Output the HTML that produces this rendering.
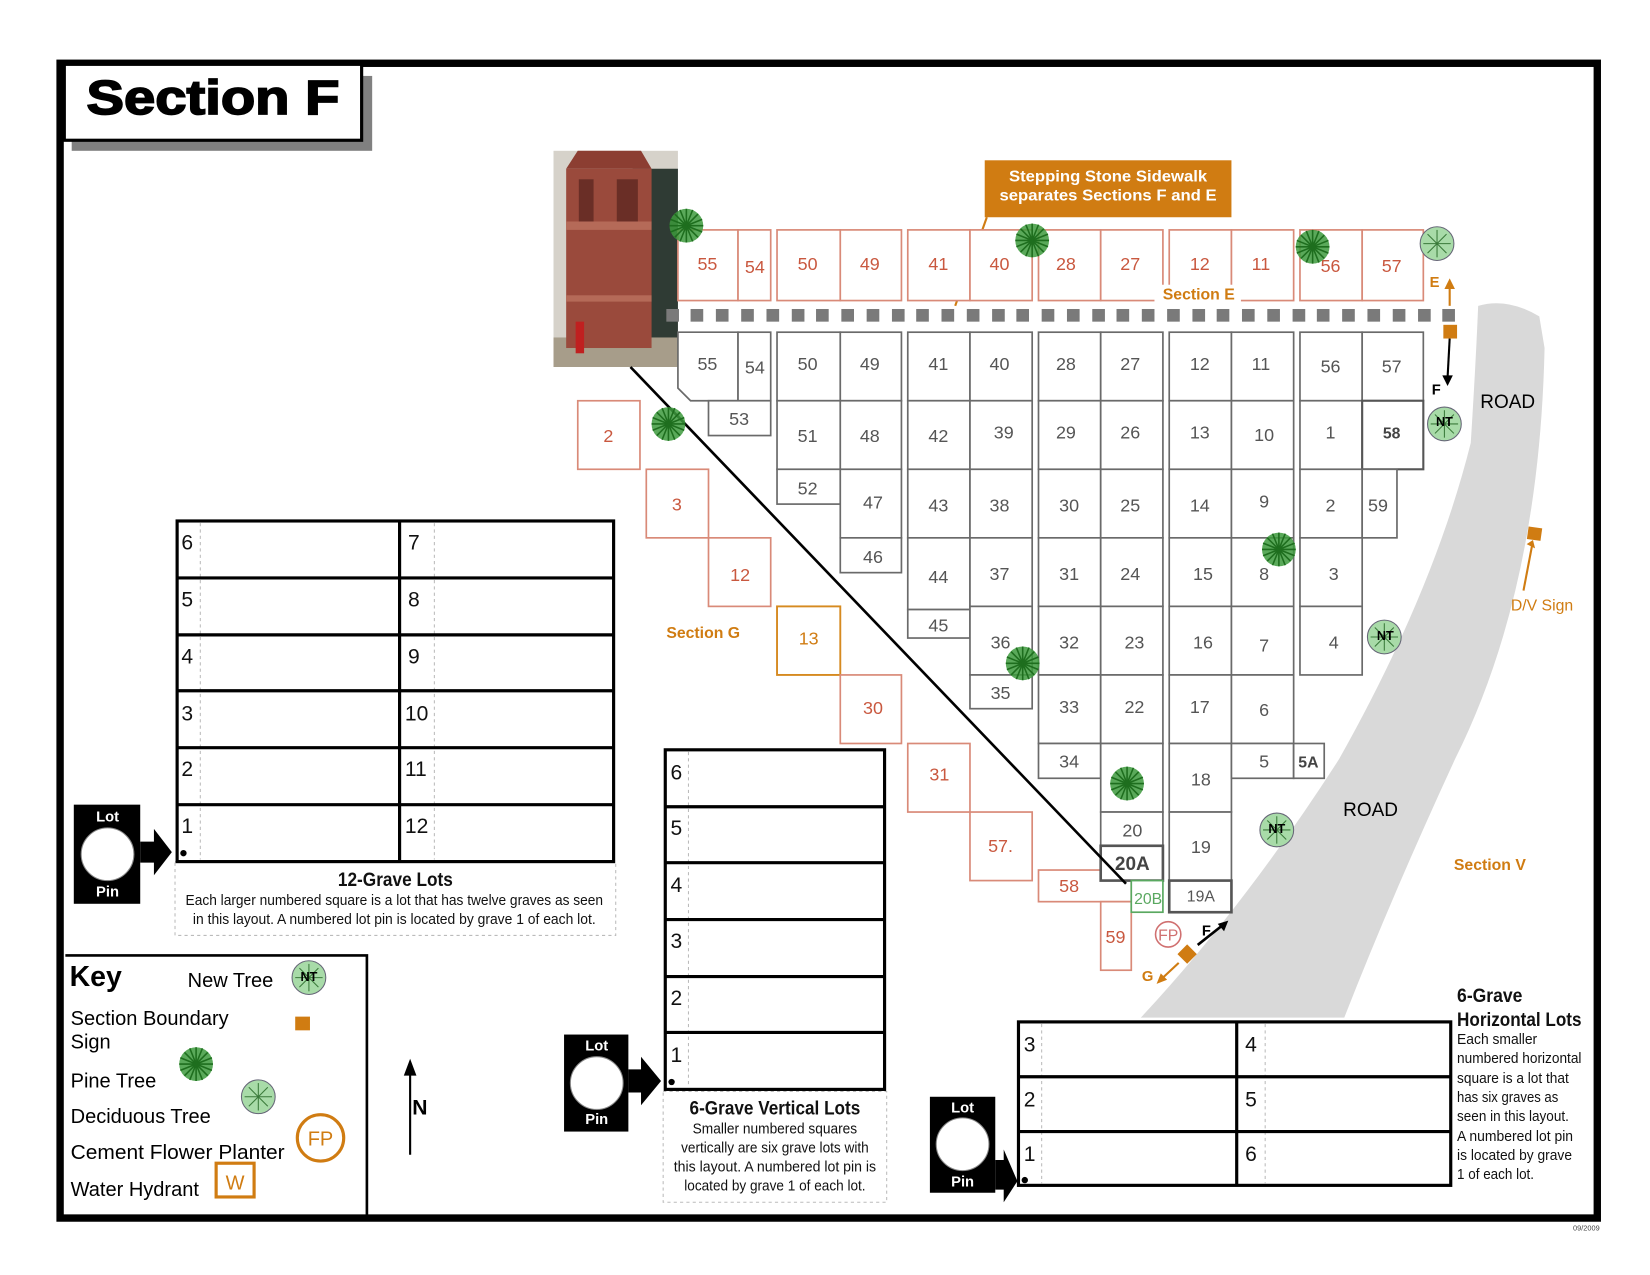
<!DOCTYPE html>
<html><head><meta charset="utf-8"><style>
html,body{margin:0;padding:0;background:#fff;}
svg{display:block;}
text{font-family:"Liberation Sans",sans-serif;}
.n{font-size:17px;fill:#555;text-anchor:middle;}
.r{font-size:17px;fill:#c9583f;text-anchor:middle;}
.f{fill:#fff;stroke:#6a6a6a;stroke-width:1.6;}
.e{fill:#fff;stroke:#d98a78;stroke-width:1.6;}
.t{fill:none;stroke:#000;stroke-width:3;}
.num{font-size:20px;fill:#111;}
.cap{font-size:14px;fill:#111;}
.capb{font-size:18px;font-weight:bold;fill:#111;}
.org{fill:#d07c12;font-weight:bold;}
.key{font-size:19px;fill:#000;}
</style></head><body>
<svg width="1650" height="1275" viewBox="0 0 1565 1209" preserveAspectRatio="none" xmlns="http://www.w3.org/2000/svg">
<defs>
<g id="pine"><circle r="16" fill="#3d9a3d" opacity="0.85"/><g stroke="#1e6e1e" stroke-width="1.5"><line x1="-16" y1="0" x2="16" y2="0"/><line x1="0" y1="-16" x2="0" y2="16"/><line x1="-11" y1="-11" x2="11" y2="11"/><line x1="-11" y1="11" x2="11" y2="-11"/><line x1="-15" y1="-6" x2="15" y2="6"/><line x1="-15" y1="6" x2="15" y2="-6"/><line x1="-6" y1="-15" x2="6" y2="15"/><line x1="6" y1="-15" x2="-6" y2="15"/></g></g>
<g id="dec"><circle r="16" fill="#a8dba8" stroke="#667" stroke-width="1"/><g stroke="#3a7a3a" stroke-width="1"><line x1="-13" y1="0" x2="13" y2="0"/><line x1="0" y1="-13" x2="0" y2="13"/><line x1="-9" y1="-9" x2="9" y2="9"/><line x1="-9" y1="9" x2="9" y2="-9"/></g></g>
</defs>

<!-- road -->
<path d="M1402,290 Q1430,282 1460,300 L1465,330 Q1460,560 1380,720 Q1320,850 1275,965 L1082,965 Q1180,860 1270,720 Q1360,560 1395,420 Q1400,340 1402,290 Z" fill="#d9d9d9"/>

<!-- outer border -->
<rect x="57" y="60" width="1458" height="1095" fill="none" stroke="#000" stroke-width="7"/>
<!-- title -->
<rect x="68" y="72" width="285" height="71" fill="#808080"/>
<rect x="61" y="61" width="282" height="72" fill="#fff" stroke="#000" stroke-width="3"/>
<text x="82" y="108" font-size="46" font-weight="bold" fill="#000" stroke="#000" stroke-width="1.6" textLength="240" lengthAdjust="spacingAndGlyphs">Section F</text>

<!-- tower photo -->
<rect x="525" y="143" width="118" height="205" fill="#d6d2ca"/>
<rect x="600" y="160" width="43" height="170" fill="#2f3b34"/>
<rect x="525" y="320" width="118" height="28" fill="#a79d8a"/>
<polygon points="537,160 548,143 608,143 618,160" fill="#8c3e32"/>
<rect x="537" y="160" width="81" height="170" fill="#9a4a3c"/>
<rect x="537" y="210" width="81" height="8" fill="#b56a58"/>
<rect x="537" y="280" width="81" height="6" fill="#b56a58"/>
<rect x="549" y="170" width="14" height="40" fill="#6a2e26"/>
<rect x="585" y="170" width="20" height="40" fill="#6a2e26"/>
<rect x="546" y="305" width="8" height="30" fill="#c02020"/>

<!-- callout -->
<rect x="934" y="152" width="234" height="54" fill="#d07c12"/>
<text x="1051" y="172" font-size="14.5" font-weight="bold" fill="#fff" text-anchor="middle" textLength="188" lengthAdjust="spacingAndGlyphs">Stepping Stone Sidewalk</text>
<text x="1051" y="190" font-size="14.5" font-weight="bold" fill="#fff" text-anchor="middle" textLength="206" lengthAdjust="spacingAndGlyphs">separates Sections F and E</text>
<line x1="936" y1="206" x2="906" y2="290" stroke="#d07c12" stroke-width="2"/>

<!-- Section E row -->
<g>
<rect class="e" x="643" y="218" width="57" height="67"/><rect class="e" x="700" y="218" width="31" height="67"/>
<rect class="e" x="737" y="218" width="60" height="67"/><rect class="e" x="797" y="218" width="58" height="67"/>
<rect class="e" x="861" y="218" width="59" height="67"/><rect class="e" x="920" y="218" width="59" height="67"/>
<rect class="e" x="985" y="218" width="59" height="67"/><rect class="e" x="1044" y="218" width="59" height="67"/>
<rect class="e" x="1109" y="218" width="59" height="67"/><rect class="e" x="1168" y="218" width="59" height="67"/>
<rect class="e" x="1233" y="218" width="59" height="67"/><rect class="e" x="1292" y="218" width="58" height="67"/>
</g>
<g class="r">
<text x="671" y="256">55</text><text x="716" y="259">54</text><text x="766" y="256">50</text><text x="825" y="256">49</text>
<text x="890" y="256">41</text><text x="948" y="256">40</text><text x="1011" y="256">28</text><text x="1072" y="256">27</text>
<text x="1138" y="256">12</text><text x="1196" y="256">11</text><text x="1262" y="258">56</text><text x="1320" y="258">57</text>
</g>
<rect x="1095" y="270" width="82" height="16" fill="#fff"/>
<text x="1137" y="284" font-size="15" class="org" text-anchor="middle">Section E</text>

<!-- stepping stones -->
<g fill="#7a7a7a">
<rect x="632" y="293" width="12" height="12"/><rect x="655" y="293" width="12" height="12"/><rect x="679" y="293" width="12" height="12"/><rect x="703" y="293" width="12" height="12"/><rect x="727" y="293" width="12" height="12"/><rect x="751" y="293" width="12" height="12"/><rect x="774" y="293" width="12" height="12"/><rect x="798" y="293" width="12" height="12"/><rect x="822" y="293" width="12" height="12"/><rect x="846" y="293" width="12" height="12"/><rect x="869" y="293" width="12" height="12"/><rect x="893" y="293" width="12" height="12"/><rect x="917" y="293" width="12" height="12"/><rect x="941" y="293" width="12" height="12"/><rect x="964" y="293" width="12" height="12"/><rect x="988" y="293" width="12" height="12"/><rect x="1012" y="293" width="12" height="12"/><rect x="1036" y="293" width="12" height="12"/><rect x="1059" y="293" width="12" height="12"/><rect x="1083" y="293" width="12" height="12"/><rect x="1107" y="293" width="12" height="12"/><rect x="1131" y="293" width="12" height="12"/><rect x="1154" y="293" width="12" height="12"/><rect x="1178" y="293" width="12" height="12"/><rect x="1202" y="293" width="12" height="12"/><rect x="1226" y="293" width="12" height="12"/><rect x="1249" y="293" width="12" height="12"/><rect x="1273" y="293" width="12" height="12"/><rect x="1297" y="293" width="12" height="12"/><rect x="1321" y="293" width="12" height="12"/><rect x="1345" y="293" width="12" height="12"/><rect x="1368" y="293" width="12" height="12"/>
</g>

<!-- red diagonal lots -->
<rect class="e" x="548" y="380" width="59" height="65"/><text class="r" x="577" y="419">2</text>
<rect class="e" x="613" y="445" width="59" height="65"/><text class="r" x="642" y="484">3</text>
<rect class="e" x="672" y="510" width="59" height="65"/><text class="r" x="702" y="551">12</text>
<rect x="737" y="575" width="60" height="65" fill="#fff" stroke="#d68a20" stroke-width="1.8"/><text x="767" y="611" font-size="17" fill="#d07c12" text-anchor="middle">13</text>
<rect class="e" x="797" y="640" width="58" height="65"/><text class="r" x="828" y="677">30</text>
<rect class="e" x="861" y="705" width="59" height="65"/><text class="r" x="891" y="740">31</text>
<rect class="e" x="920" y="770" width="59" height="65"/><text class="r" x="949" y="808">57.</text>
<rect class="e" x="985" y="825" width="88" height="30"/><text class="r" x="1014" y="846">58</text>
<rect class="e" x="1044" y="855" width="29" height="65"/><text class="r" x="1058" y="894">59</text>
<text x="632" y="605" font-size="15" class="org">Section G</text>

<!-- Section F lots -->
<g>
<path class="f" d="M643,315 L700,315 L700,380 L655,380 L643,368 Z"/>
<rect class="f" x="700" y="315" width="31" height="65"/>
<rect class="f" x="672" y="380" width="59" height="33"/>
<rect class="f" x="737" y="315" width="60" height="65"/><rect class="f" x="797" y="315" width="58" height="65"/>
<rect class="f" x="737" y="380" width="60" height="65"/><rect class="f" x="797" y="380" width="58" height="65"/>
<rect class="f" x="737" y="445" width="60" height="33"/><rect class="f" x="797" y="445" width="58" height="65"/>
<rect class="f" x="797" y="510" width="58" height="33"/>
<rect class="f" x="861" y="315" width="59" height="65"/><rect class="f" x="920" y="315" width="59" height="65"/>
<rect class="f" x="861" y="380" width="59" height="65"/><rect class="f" x="920" y="380" width="59" height="65"/>
<rect class="f" x="861" y="445" width="59" height="65"/><rect class="f" x="920" y="445" width="59" height="65"/>
<rect class="f" x="861" y="510" width="59" height="68"/><rect class="f" x="920" y="510" width="59" height="65"/>
<rect class="f" x="861" y="578" width="59" height="27"/><rect class="f" x="920" y="575" width="59" height="65"/>
<rect class="f" x="920" y="640" width="59" height="32"/>
<rect class="f" x="985" y="315" width="59" height="65"/><rect class="f" x="1044" y="315" width="59" height="65"/>
<rect class="f" x="985" y="380" width="59" height="65"/><rect class="f" x="1044" y="380" width="59" height="65"/>
<rect class="f" x="985" y="445" width="59" height="65"/><rect class="f" x="1044" y="445" width="59" height="65"/>
<rect class="f" x="985" y="510" width="59" height="65"/><rect class="f" x="1044" y="510" width="59" height="65"/>
<rect class="f" x="985" y="575" width="59" height="65"/><rect class="f" x="1044" y="575" width="59" height="65"/>
<rect class="f" x="985" y="640" width="59" height="65"/><rect class="f" x="1044" y="640" width="59" height="65"/>
<rect class="f" x="985" y="705" width="59" height="33"/><rect class="f" x="1044" y="705" width="59" height="65"/>
<rect class="f" x="1044" y="770" width="59" height="32"/>
<rect x="1044" y="802" width="59" height="33" fill="#fff" stroke="#555" stroke-width="2.5"/>
<rect x="1073" y="835" width="30" height="30" fill="#fff" stroke="#5aa860" stroke-width="1.6"/>
<rect class="f" x="1109" y="315" width="59" height="65"/><rect class="f" x="1168" y="315" width="59" height="65"/>
<rect class="f" x="1109" y="380" width="59" height="65"/><rect class="f" x="1168" y="380" width="59" height="65"/>
<rect class="f" x="1109" y="445" width="59" height="65"/><rect class="f" x="1168" y="445" width="59" height="65"/>
<rect class="f" x="1109" y="510" width="59" height="65"/><rect class="f" x="1168" y="510" width="59" height="65"/>
<rect class="f" x="1109" y="575" width="59" height="65"/><rect class="f" x="1168" y="575" width="59" height="65"/>
<rect class="f" x="1109" y="640" width="59" height="65"/><rect class="f" x="1168" y="640" width="59" height="65"/>
<rect class="f" x="1109" y="705" width="59" height="65"/><rect class="f" x="1168" y="705" width="59" height="33"/>
<rect class="f" x="1227" y="705" width="29" height="33"/>
<rect class="f" x="1109" y="770" width="59" height="65"/>
<rect x="1109" y="835" width="59" height="30" fill="#fff" stroke="#555" stroke-width="2.5"/>
<rect class="f" x="1233" y="315" width="59" height="65"/><rect class="f" x="1292" y="315" width="58" height="65"/>
<rect class="f" x="1233" y="380" width="59" height="65"/><rect x="1292" y="380" width="58" height="65" fill="#fff" stroke="#555" stroke-width="2"/>
<rect class="f" x="1233" y="445" width="59" height="65"/><rect class="f" x="1292" y="445" width="33" height="65"/>
<rect class="f" x="1233" y="510" width="59" height="65"/><rect class="f" x="1233" y="575" width="59" height="65"/>
</g>
<g class="n">
<text x="671" y="351">55</text><text x="716" y="354">54</text><text x="701" y="403">53</text>
<text x="766" y="351">50</text><text x="825" y="351">49</text><text x="766" y="419">51</text><text x="825" y="419">48</text>
<text x="766" y="469">52</text><text x="828" y="482">47</text><text x="828" y="534">46</text>
<text x="890" y="351">41</text><text x="948" y="351">40</text><text x="890" y="419">42</text><text x="952" y="416">39</text>
<text x="890" y="485">43</text><text x="948" y="485">38</text><text x="890" y="553">44</text><text x="948" y="550">37</text>
<text x="890" y="599">45</text><text x="949" y="615">36</text><text x="949" y="663">35</text>
<text x="1011" y="351">28</text><text x="1072" y="351">27</text><text x="1011" y="416">29</text><text x="1072" y="416">26</text>
<text x="1014" y="485">30</text><text x="1072" y="485">25</text><text x="1014" y="550">31</text><text x="1072" y="550">24</text>
<text x="1014" y="615">32</text><text x="1076" y="615">23</text><text x="1014" y="676">33</text><text x="1076" y="676">22</text>
<text x="1014" y="728">34</text><text x="1074" y="793">20</text>
<text x="1138" y="351">12</text><text x="1196" y="351">11</text><text x="1138" y="416">13</text><text x="1199" y="418">10</text>
<text x="1138" y="485">14</text><text x="1199" y="481">9</text><text x="1141" y="550">15</text><text x="1199" y="550">8</text>
<text x="1141" y="615">16</text><text x="1199" y="618">7</text><text x="1138" y="676">17</text><text x="1199" y="679">6</text>
<text x="1139" y="745">18</text><text x="1199" y="728">5</text><text x="1139" y="809">19</text>
<text x="1262" y="353">56</text><text x="1320" y="353">57</text><text x="1262" y="416">1</text><text x="1262" y="485">2</text>
<text x="1307" y="485">59</text><text x="1265" y="550">3</text><text x="1265" y="615">4</text>
</g>
<text x="1241" y="728" font-size="15" font-weight="bold" fill="#444" text-anchor="middle">5A</text>
<text x="1320" y="416" font-size="15" font-weight="bold" fill="#444" text-anchor="middle">58</text>
<text x="1074" y="825" font-size="18" font-weight="bold" fill="#444" text-anchor="middle">20A</text>
<text x="1089" y="857" font-size="15" fill="#5aa860" text-anchor="middle">20B</text>
<text x="1139" y="855" font-size="15" fill="#555" text-anchor="middle">19A</text>

<!-- diagonal line -->
<line x1="598" y1="348" x2="1068" y2="838" stroke="#000" stroke-width="2.5"/>

<!-- trees -->
<use href="#pine" x="651" y="214"/><use href="#pine" x="979" y="228"/><use href="#pine" x="1245" y="234"/>
<use href="#pine" x="634" y="402"/><use href="#pine" x="1213" y="521"/><use href="#pine" x="970" y="629"/>
<use href="#pine" x="1069" y="743"/>
<use href="#dec" x="1363" y="231"/>
<use href="#dec" x="1370" y="402"/><use href="#dec" x="1313" y="604"/><use href="#dec" x="1211" y="787"/>
<g font-size="12" font-weight="bold" fill="#000" text-anchor="middle">
<text x="1370" y="404">NT</text><text x="1314" y="607">NT</text><text x="1211" y="790">NT</text><text x="293" y="930">NT</text>
</g>

<!-- E/F markers -->
<line x1="1375" y1="290" x2="1375" y2="272" stroke="#d07c12" stroke-width="2"/><polygon points="1370,274 1375,264 1380,274" fill="#d07c12"/>
<text x="1356" y="272" font-size="14" class="org">E</text>
<rect x="1369" y="308" width="13" height="13" fill="#d07c12"/>
<line x1="1375" y1="321" x2="1373" y2="358" stroke="#000" stroke-width="2"/><polygon points="1368,356 1373,366 1378,356" fill="#000"/>
<text x="1358" y="374" font-size="14" font-weight="bold" fill="#000">F</text>
<text x="1404" y="387" font-size="18" fill="#000">ROAD</text>
<text x="1274" y="774" font-size="18" fill="#000">ROAD</text>
<rect x="1449" y="500" width="13" height="12" fill="#d07c12" transform="rotate(8 1455 506)"/>
<line x1="1453" y1="518" x2="1445" y2="560" stroke="#d07c12" stroke-width="2"/><polygon points="1448,516 1454,512 1456,520" fill="#d07c12"/>
<text x="1433" y="579" font-size="15" fill="#d07c12">D/V Sign</text>
<text x="1379" y="825" font-size="15" class="org">Section V</text>
<circle cx="1108" cy="886" r="12" fill="none" stroke="#d07070" stroke-width="1.5"/><text x="1108" y="892" font-size="15" fill="#d07070" text-anchor="middle">FP</text>
<rect x="1120" y="898" width="13" height="13" fill="#d07c12" transform="rotate(45 1126 904)"/>
<line x1="1136" y1="896" x2="1160" y2="877" stroke="#000" stroke-width="2.5"/><polygon points="1165,873 1155,876 1161,883" fill="#000"/>
<text x="1140" y="887" font-size="14" font-weight="bold" fill="#000">F</text>
<line x1="1118" y1="913" x2="1102" y2="928" stroke="#d07c12" stroke-width="2"/><polygon points="1097,933 1101,923 1107,929" fill="#d07c12"/>
<text x="1083" y="930" font-size="14" class="org">G</text>

<!-- 12-grave table -->
<rect x="166" y="817" width="418" height="70" fill="none" stroke="#bbb" stroke-dasharray="3,3"/>
<line x1="190" y1="496" x2="190" y2="815" stroke="#bbb" stroke-dasharray="3,3"/>
<line x1="412" y1="496" x2="412" y2="815" stroke="#bbb" stroke-dasharray="3,3"/>
<rect class="t" x="168" y="494" width="414" height="323"/>
<g stroke="#000" stroke-width="3"><line x1="168" y1="548" x2="582" y2="548"/><line x1="168" y1="602" x2="582" y2="602"/><line x1="168" y1="655" x2="582" y2="655"/><line x1="168" y1="709" x2="582" y2="709"/><line x1="168" y1="763" x2="582" y2="763"/><line x1="379" y1="494" x2="379" y2="817"/></g>
<g class="num"><text x="172" y="521">6</text><text x="172" y="575">5</text><text x="172" y="629">4</text><text x="172" y="683">3</text><text x="172" y="736">2</text><text x="172" y="790">1</text>
<text x="387" y="521">7</text><text x="387" y="575">8</text><text x="387" y="629">9</text><text x="384" y="683">10</text><text x="384" y="736">11</text><text x="384" y="790">12</text></g>
<circle cx="174" cy="809" r="3" fill="#000"/>
<text class="capb" x="375" y="840" text-anchor="middle" textLength="109" lengthAdjust="spacingAndGlyphs">12-Grave Lots</text>
<text class="cap" x="374" y="858" text-anchor="middle" textLength="396" lengthAdjust="spacingAndGlyphs">Each larger numbered square is a lot that has twelve graves as seen</text>
<text class="cap" x="374" y="876" text-anchor="middle" textLength="382" lengthAdjust="spacingAndGlyphs">in this layout.  A numbered lot pin is located by grave 1 of each lot.</text>

<!-- 6-grave vertical -->
<rect x="629" y="1035" width="212" height="105" fill="none" stroke="#bbb" stroke-dasharray="3,3"/>
<line x1="653" y1="713" x2="653" y2="1031" stroke="#bbb" stroke-dasharray="3,3"/>
<rect class="t" x="631" y="711" width="208" height="322"/>
<g stroke="#000" stroke-width="3"><line x1="631" y1="765" x2="839" y2="765"/><line x1="631" y1="818" x2="839" y2="818"/><line x1="631" y1="872" x2="839" y2="872"/><line x1="631" y1="926" x2="839" y2="926"/><line x1="631" y1="979" x2="839" y2="979"/></g>
<g class="num"><text x="636" y="739">6</text><text x="636" y="792">5</text><text x="636" y="846">4</text><text x="636" y="899">3</text><text x="636" y="953">2</text><text x="636" y="1007">1</text></g>
<circle cx="637" cy="1026" r="3" fill="#000"/>
<text class="capb" x="735" y="1057" text-anchor="middle" textLength="162" lengthAdjust="spacingAndGlyphs">6-Grave Vertical Lots</text>
<g class="cap" text-anchor="middle"><text x="735" y="1075" textLength="156" lengthAdjust="spacingAndGlyphs">Smaller numbered squares</text><text x="735" y="1093" textLength="178" lengthAdjust="spacingAndGlyphs">vertically are six grave lots with</text><text x="735" y="1111" textLength="192" lengthAdjust="spacingAndGlyphs">this layout.  A numbered lot pin is</text><text x="735" y="1129" textLength="172" lengthAdjust="spacingAndGlyphs">located by grave 1 of each lot.</text></g>

<!-- 6-grave horizontal -->
<line x1="988" y1="971" x2="988" y2="1122" stroke="#bbb" stroke-dasharray="3,3"/>
<line x1="1200" y1="971" x2="1200" y2="1122" stroke="#bbb" stroke-dasharray="3,3"/>
<rect class="t" x="966" y="969" width="410" height="155"/>
<g stroke="#000" stroke-width="3"><line x1="966" y1="1021" x2="1376" y2="1021"/><line x1="966" y1="1073" x2="1376" y2="1073"/><line x1="1173" y1="969" x2="1173" y2="1124"/></g>
<g class="num"><text x="971" y="997">3</text><text x="971" y="1049">2</text><text x="971" y="1101">1</text><text x="1181" y="997">4</text><text x="1181" y="1049">5</text><text x="1181" y="1101">6</text></g>
<circle cx="972" cy="1119" r="3" fill="#000"/>
<text class="capb" x="1382" y="950" textLength="62" lengthAdjust="spacingAndGlyphs">6-Grave</text>
<text class="capb" x="1382" y="973" textLength="118" lengthAdjust="spacingAndGlyphs">Horizontal Lots</text>
<g class="cap"><text x="1382" y="990" textLength="76" lengthAdjust="spacingAndGlyphs">Each smaller</text><text x="1382" y="1008" textLength="118" lengthAdjust="spacingAndGlyphs">numbered horizontal</text><text x="1382" y="1027" textLength="106" lengthAdjust="spacingAndGlyphs">square is a lot that</text><text x="1382" y="1045" textLength="96" lengthAdjust="spacingAndGlyphs">has six graves as</text><text x="1382" y="1063" textLength="106" lengthAdjust="spacingAndGlyphs">seen in this layout.</text><text x="1382" y="1082" textLength="110" lengthAdjust="spacingAndGlyphs">A numbered lot pin</text><text x="1382" y="1100" textLength="109" lengthAdjust="spacingAndGlyphs">is located by grave</text><text x="1382" y="1118" textLength="73" lengthAdjust="spacingAndGlyphs">1 of each lot.</text></g>

<!-- lot pin badges -->
<g>
<rect x="70" y="763" width="63" height="94" fill="#000"/><circle cx="102" cy="810" r="25" fill="#fff" stroke="#888" stroke-width="1"/>
<text x="102" y="779" font-size="14" font-weight="bold" fill="#fff" text-anchor="middle">Lot</text><text x="102" y="850" font-size="14" font-weight="bold" fill="#fff" text-anchor="middle">Pin</text>
<polygon points="133,798 146,798 146,786 163,808 146,830 146,818 133,818" fill="#000"/>
</g>
<g>
<rect x="535" y="981" width="61" height="92" fill="#000"/><circle cx="566" cy="1027" r="25" fill="#fff" stroke="#888"/>
<text x="566" y="996" font-size="14" font-weight="bold" fill="#fff" text-anchor="middle">Lot</text><text x="566" y="1066" font-size="14" font-weight="bold" fill="#fff" text-anchor="middle">Pin</text>
<polygon points="596,1014 608,1014 608,1002 627,1025 608,1048 608,1036 596,1036" fill="#000"/>
</g>
<g>
<rect x="882" y="1040" width="62" height="91" fill="#000"/><circle cx="913" cy="1085" r="25" fill="#fff" stroke="#888"/>
<text x="913" y="1055" font-size="14" font-weight="bold" fill="#fff" text-anchor="middle">Lot</text><text x="913" y="1125" font-size="14" font-weight="bold" fill="#fff" text-anchor="middle">Pin</text>
<polygon points="944,1100 952,1100 952,1090 965,1120 952,1140 952,1128 944,1128" fill="#000"/>
</g>

<!-- key -->
<polyline points="62,906 348,906 348,1152" fill="none" stroke="#000" stroke-width="2.5"/>
<text x="66" y="935" font-size="27" font-weight="bold" fill="#000">Key</text>
<text class="key" x="178" y="936">New Tree</text>
<use href="#dec" x="293" y="927"/><text x="293" y="930" font-size="12" font-weight="bold" fill="#000" text-anchor="middle">NT</text>
<text class="key" x="67" y="972">Section Boundary</text><text class="key" x="67" y="994">Sign</text>
<rect x="280" y="964" width="14" height="13" fill="#d07c12"/>
<use href="#pine" x="186" y="1009"/>
<text class="key" x="67" y="1031">Pine Tree</text>
<use href="#dec" x="245" y="1040"/>
<text class="key" x="67" y="1065">Deciduous Tree</text>
<circle cx="304" cy="1079" r="22" fill="none" stroke="#d07c12" stroke-width="3"/><text x="304" y="1086" font-size="19" fill="#d07c12" text-anchor="middle">FP</text>
<text class="key" x="67" y="1099" textLength="203" lengthAdjust="spacingAndGlyphs">Cement Flower Planter</text>
<rect x="205" y="1103" width="36" height="32" fill="none" stroke="#d07c12" stroke-width="3"/><text x="223" y="1128" font-size="19" fill="#d07c12" text-anchor="middle">W</text>
<text class="key" x="67" y="1134">Water Hydrant</text>

<!-- north arrow -->
<line x1="389" y1="1015" x2="389" y2="1095" stroke="#000" stroke-width="2"/>
<polygon points="383,1020 389,1004 395,1020" fill="#000"/>
<text x="391" y="1057" font-size="20" font-weight="bold" fill="#000">N</text>

<text x="1492" y="1167" font-size="7" fill="#444">09/2009</text>
</svg>
</body></html>
